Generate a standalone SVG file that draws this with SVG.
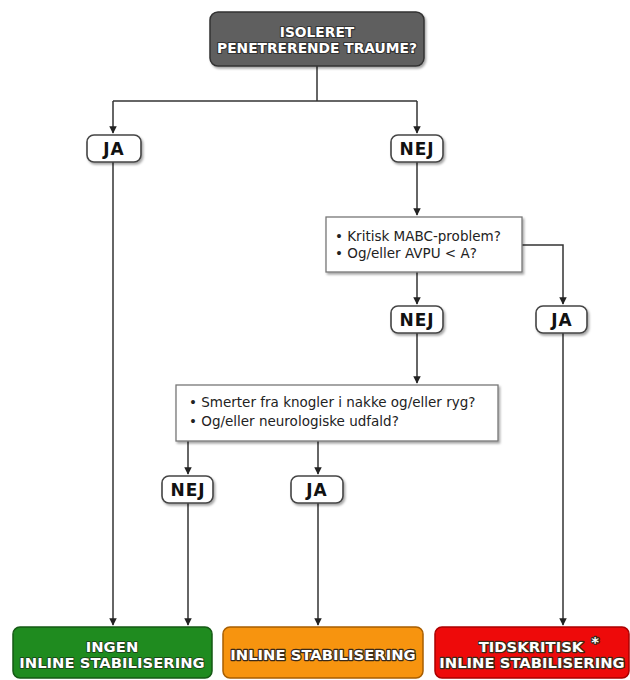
<svg xmlns="http://www.w3.org/2000/svg" width="630" height="680" viewBox="0 0 630 680">
<style>
.ln{fill:none;stroke:#333;stroke-width:1.5}
.pill{fill:#fff;stroke:#444;stroke-width:1.6}
.pt{font-family:"DejaVu Sans",Verdana,sans-serif;font-weight:bold;font-size:17px;letter-spacing:1px;fill:#111;text-anchor:middle}
.q{fill:#fff;stroke:#777;stroke-width:1.3}
.qt{font-family:"DejaVu Sans",Verdana,sans-serif;font-size:13.5px;fill:#222}
.ht{font-family:"DejaVu Sans",Verdana,sans-serif;font-weight:bold;font-size:13.8px;fill:#fff;text-anchor:middle;stroke:#333;stroke-width:2.2;paint-order:stroke;stroke-linejoin:round}
.bt{font-family:"DejaVu Sans",Verdana,sans-serif;font-weight:bold;font-size:14.8px;fill:#fff;text-anchor:middle;stroke:#3a2a1a;stroke-width:2.4;paint-order:stroke;stroke-linejoin:round}
</style>
<defs>
<marker id="ah" viewBox="0 0 10 10" refX="9" refY="5" markerWidth="5" markerHeight="5" orient="auto"><path d="M0,0 L10,5 L0,10 z" fill="#222"/></marker>
<filter id="sh" x="-10%" y="-10%" width="130%" height="140%"><feDropShadow dx="1.5" dy="2" stdDeviation="1.2" flood-color="#000" flood-opacity="0.35"/></filter>
</defs>
<g id="connectors">
<path class="ln" d="M317,66 V101"/>
<path class="ln" d="M113,101 H417" />
<path class="ln" d="M113,101 V133" marker-end="url(#ah)"/>
<path class="ln" d="M417,101 V133" marker-end="url(#ah)"/>
<path class="ln" d="M417,162 V215" marker-end="url(#ah)"/>
<path class="ln" d="M417,272 V304" marker-end="url(#ah)"/>
<path class="ln" d="M522,245 H563 V304" marker-end="url(#ah)"/>
<path class="ln" d="M417,333 V383" marker-end="url(#ah)"/>
<path class="ln" d="M188,441 V474" marker-end="url(#ah)"/>
<path class="ln" d="M318,441 V474" marker-end="url(#ah)"/>
<path class="ln" d="M113,162 V625" marker-end="url(#ah)"/>
<path class="ln" d="M188,503 V625" marker-end="url(#ah)"/>
<path class="ln" d="M318,503 V625" marker-end="url(#ah)"/>
<path class="ln" d="M563,333 V625" marker-end="url(#ah)"/>
</g>
<g id="start">
<rect x="210" y="12" width="214" height="54" rx="8" fill="#5e5e5e" stroke="#333" stroke-width="1.5" filter="url(#sh)"/>
<text class="ht" x="317" y="36.5">ISOLERET</text>
<text class="ht" x="317" y="52.5">PENETRERENDE TRAUME?</text>
</g>
<g id="ja1"><rect class="pill" x="87" y="135" width="54" height="27" rx="7" filter="url(#sh)"/><text class="pt" x="114" y="155">JA</text></g>
<g id="nej1"><rect class="pill" x="391" y="135" width="52" height="27" rx="7" filter="url(#sh)"/><text class="pt" x="417" y="155">NEJ</text></g>
<g id="q1">
<rect class="q" x="326" y="217" width="196" height="55" filter="url(#sh)"/>
<text class="qt" x="335" y="241">• Kritisk MABC-problem?</text>
<text class="qt" x="335" y="258">• Og/eller AVPU &lt; A?</text>
</g>
<g id="nej2"><rect class="pill" x="391" y="306" width="52" height="27" rx="7" filter="url(#sh)"/><text class="pt" x="417" y="326">NEJ</text></g>
<g id="ja2"><rect class="pill" x="536" y="306" width="51" height="27" rx="7" filter="url(#sh)"/><text class="pt" x="562" y="326">JA</text></g>
<g id="q2">
<rect class="q" x="176" y="385" width="322" height="56" filter="url(#sh)"/>
<text class="qt" x="189" y="407">• Smerter fra knogler i nakke og/eller ryg?</text>
<text class="qt" x="189" y="426">• Og/eller neurologiske udfald?</text>
</g>
<g id="nej3"><rect class="pill" x="162" y="476" width="51" height="27" rx="7" filter="url(#sh)"/><text class="pt" x="188" y="496">NEJ</text></g>
<g id="ja3"><rect class="pill" x="291" y="476" width="52" height="27" rx="7" filter="url(#sh)"/><text class="pt" x="317" y="496">JA</text></g>
<g id="ingen">
<rect x="13" y="627" width="199" height="51" rx="7" fill="#1f8b1f" stroke="#155a15" stroke-width="1.5"/>
<text class="bt" x="112" y="652" style="stroke:#1a3a1a;stroke-width:1.6">INGEN</text>
<text class="bt" x="112" y="668" style="stroke:#1a3a1a;stroke-width:1.6">INLINE STABILISERING</text>
</g>
<g id="inline">
<rect x="223" y="627" width="200" height="51" rx="7" fill="#f7940f" stroke="#a85e00" stroke-width="1.5"/>
<text class="bt" x="323" y="660">INLINE STABILISERING</text>
</g>
<g id="tidskritisk">
<rect x="435" y="627" width="194" height="51" rx="7" fill="#ee0a0a" stroke="#a00" stroke-width="1.5"/>
<text class="bt" x="531" y="652">TIDSKRITISK</text>
<text class="bt" x="595" y="647">*</text>
<text class="bt" x="532" y="668">INLINE STABILISERING</text>
</g>
</svg>
